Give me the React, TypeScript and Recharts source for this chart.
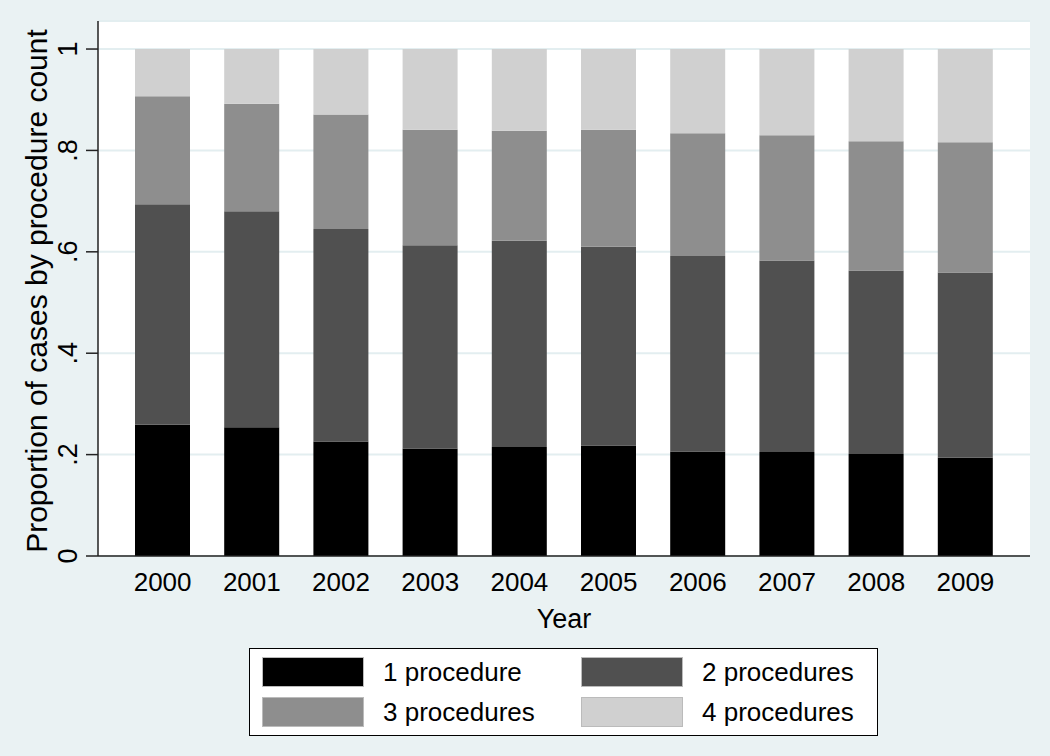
import React from "react";
import { BarChart, Bar, XAxis, YAxis, CartesianGrid } from "recharts";

const years = ["2000", "2001", "2002", "2003", "2004", "2005", "2006", "2007", "2008", "2009"];
const oneProcedure = [0.259, 0.254, 0.226, 0.212, 0.215, 0.218, 0.206, 0.205, 0.201, 0.194];
const twoProcedures = [0.435, 0.426, 0.419, 0.401, 0.407, 0.392, 0.386, 0.378, 0.362, 0.365];
const threeProcedures = [0.213, 0.212, 0.226, 0.228, 0.217, 0.231, 0.242, 0.247, 0.255, 0.257];
const fourProcedures = [0.093, 0.108, 0.129, 0.159, 0.161, 0.159, 0.166, 0.17, 0.182, 0.184];
const yTicks = [0, 0.2, 0.4, 0.6, 0.8, 1];
const yTickLabels = ["0", ".2", ".4", ".6", ".8", "1"];

const seriesNames = ["1 procedure", "2 procedures", "3 procedures", "4 procedures"];
const seriesKeys = ["p1", "p2", "p3", "p4"];
const seriesColors = ["#000000", "#505050", "#8e8e8e", "#d0d0d0"];

const data = years.map((y, i) => ({
  year: y,
  p1: oneProcedure[i],
  p2: twoProcedures[i],
  p3: threeProcedures[i],
  p4: fourProcedures[i],
}));

const FONT = "'Liberation Sans', Arial, sans-serif";

const YTick = (props: any) => {
  const { y, payload } = props;
  const idx = yTicks.indexOf(payload.value);
  const label = idx >= 0 ? yTickLabels[idx] : String(payload.value);
  const bx = 77;
  return (
    <text
      x={bx}
      y={y}
      transform={`rotate(-90, ${bx}, ${y})`}
      textAnchor="middle"
      fontSize={27}
      fontFamily={FONT}
      fill="#000"
    >
      {label}
    </text>
  );
};

const XTick = (props: any) => {
  const { x, payload } = props;
  return (
    <text x={x} y={591} textAnchor="middle" fontSize={26} fontFamily={FONT} fill="#000">
      {payload.value}
    </text>
  );
};

const XTitle = (props: any) => {
  const vb = props.viewBox || {};
  const cx = (vb.x || 0) + (vb.width || 0) / 2;
  return (
    <text x={cx} y={628} textAnchor="middle" fontSize={27} fontFamily={FONT} fill="#000">
      Year
    </text>
  );
};

const YTitle = () => {
  const bx = 47;
  const cy = 291;
  return (
    <text
      x={bx}
      y={cy}
      transform={`rotate(-90, ${bx}, ${cy})`}
      textAnchor="middle"
      fontSize={30}
      fontFamily={FONT}
      fill="#000"
    >
      Proportion of cases by procedure count
    </text>
  );
};

const LegendBox = () => {
  const item = (i: number, left: number, top: number) => (
    <div key={i} style={{ position: "absolute", left, top, display: "flex", alignItems: "center" }}>
      <div style={{ width: 102, height: 30, background: seriesColors[i], boxSizing: "border-box", border: "1px solid #bbb" }} />
      <span style={{ marginLeft: 19, fontSize: 26, fontFamily: FONT, color: "#000", lineHeight: "30px" }}>
        {seriesNames[i]}
      </span>
    </div>
  );
  return (
    <div
      style={{
        position: "absolute",
        left: 249,
        top: 648,
        width: 629,
        height: 88,
        background: "#fff",
        border: "1px solid #000",
        boxSizing: "border-box",
      }}
    >
      {item(0, 12, 8)}
      {item(1, 331, 8)}
      {item(2, 12, 48)}
      {item(3, 331, 48)}
    </div>
  );
};

export default function App() {
  return (
    <div
      style={{
        position: "fixed",
        left: 0,
        top: 0,
        width: 1050,
        height: 756,
        background: "#eaf2f3",
        overflow: "hidden",
      }}
    >
      <BarChart
        width={1050}
        height={756}
        data={data}
        margin={{ top: 21, right: 20, left: 0, bottom: 100 }}
        barSize={55}
      >
        <CartesianGrid
          vertical={false}
          horizontal={true}
          fill="#ffffff"
          stroke="#e3eef0"
          strokeWidth={2}
        />
        <XAxis
          dataKey="year"
          padding={{ left: 20, right: 20 }}
          tickLine={false}
          axisLine={{ stroke: "#222", strokeWidth: 1.5 }}
          tick={<XTick />}
          height={100}
          interval={0}
          label={<XTitle />}
        />
        <YAxis
          type="number"
          domain={[0, 1.0553]}
          ticks={yTicks}
          allowDataOverflow
          width={98}
          tickSize={12}
          tickLine={{ stroke: "#222", strokeWidth: 1.5 }}
          axisLine={{ stroke: "#222", strokeWidth: 1.5 }}
          tick={<YTick />}
          label={<YTitle />}
        />
        {seriesKeys.map((k, i) => (
          <Bar
            key={k}
            dataKey={k}
            name={seriesNames[i]}
            stackId="a"
            fill={seriesColors[i]}
            isAnimationActive={false}
          />
        ))}
      </BarChart>
      <LegendBox />
    </div>
  );
}
